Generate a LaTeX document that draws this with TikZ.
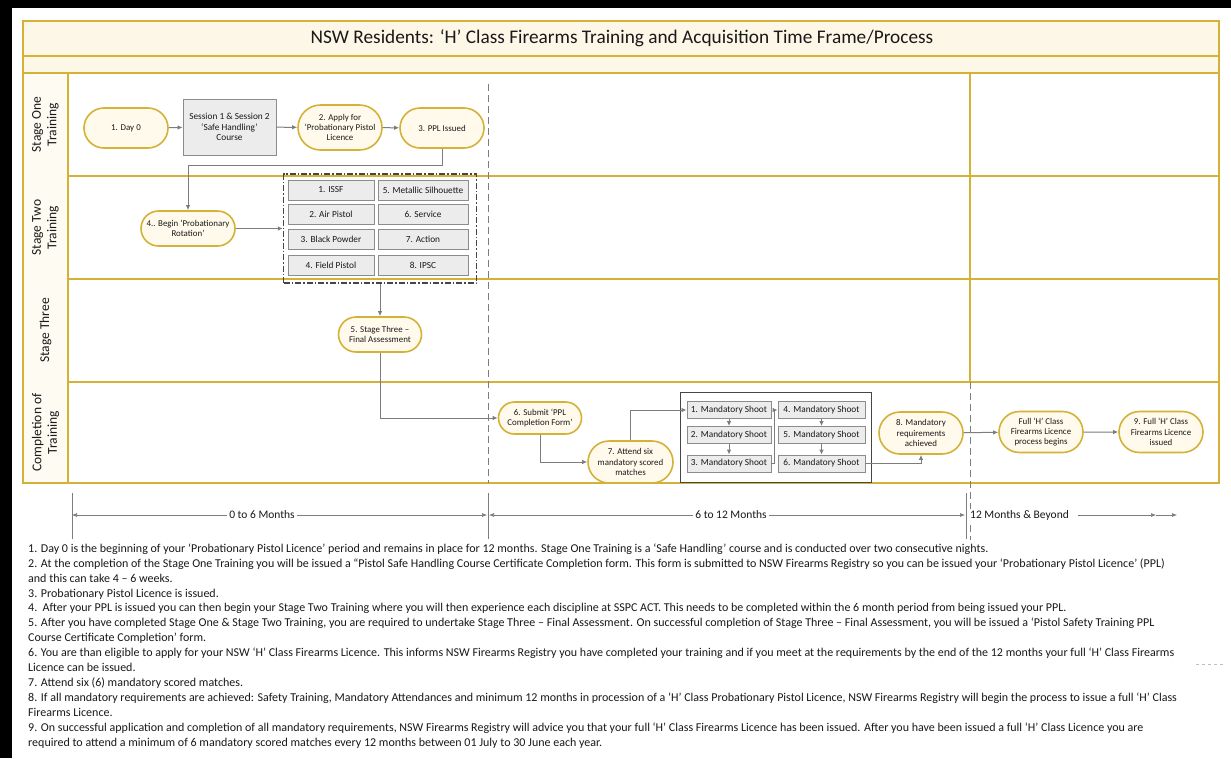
\documentclass[tikz,border=0pt]{standalone}
\usepackage{fontspec}
\setmainfont{Carlito}
\usetikzlibrary{arrows.meta,shapes.misc,calc}
\definecolor{gold}{RGB}{212,177,55}
\definecolor{cream}{RGB}{253,247,232}
\definecolor{labfill}{RGB}{254,251,243}
\definecolor{nodefill}{RGB}{255,250,236}
\definecolor{arrgray}{RGB}{125,125,125}
\definecolor{boxgray}{RGB}{236,236,236}
\definecolor{boxline}{RGB}{140,140,140}
\definecolor{darkline}{RGB}{70,70,70}
\definecolor{txt}{RGB}{25,25,25}
\begin{document}
\begin{tikzpicture}[x=1pt,y=-1pt,
  lane/.style={draw=gold,line width=1.5pt},
  term/.style={rounded rectangle,draw=gold,line width=1.6pt,fill=nodefill,align=center,
    minimum width=86pt,inner sep=1pt,font=\fontsize{8.9}{10.2}\selectfont,text=txt},
  gbox/.style={rectangle,draw=boxline,line width=0.8pt,fill=boxgray,align=center,
    inner sep=1pt,font=\fontsize{9.3}{10.6}\selectfont,text=txt},
  arr/.style={draw=arrgray,line width=1pt,-{Latex[length=5pt,width=4.5pt]}},
  tl/.style={draw=arrgray,line width=0.6pt},
  tla/.style={tl,-{Latex[length=5pt,width=4pt]}},
  lanelab/.style={rotate=90,align=center,font=\fontsize{13.5}{15.5}\selectfont,text=txt},
  note/.style={anchor=base west,inner sep=0pt,font=\fontsize{12}{14}\selectfont,text=txt},
  tlab/.style={fill=white,inner sep=2pt,font=\fontsize{11.5}{13}\selectfont,text=txt},
  frame/.style={draw=black,line cap=butt}]
\useasboundingbox (0,0) rectangle (1231,758);
\fill[white] (0,0) rectangle (1231,758);
% black frame of the screenshot
\draw[frame,line width=12pt] (6,0) -- (6,758);
\draw[frame,line width=8pt] (0,4) -- (1231,4);
% table
\fill[cream] (23,21) rectangle (1219,73);
\fill[labfill] (23,73) rectangle (68,483);
\draw[lane] (23,21) rectangle (1219,483);
\draw[lane] (23,56) -- (1219,56);
\draw[lane] (23,73) -- (1219,73);
\draw[lane] (68,73) -- (68,483);
\draw[lane] (68,176) -- (1219,176);
\draw[lane] (68,279) -- (1219,279);
\draw[lane] (68,382) -- (1219,382);
\draw[lane] (970,73) -- (970,382);
\draw[arrgray,line width=0.7pt,dash pattern=on 7pt off 4pt] (970,382) -- (970,540);
\draw[arrgray,line width=0.7pt,dash pattern=on 7pt off 4pt] (488,84) -- (488,483);
% title
\node[font=\fontsize{19.3}{22}\selectfont,text=txt] (title) at (622,38.5) {NSW Residents: ‘H’ Class Firearms Training and Acquisition Time Frame/Process};
% lane labels
\node[lanelab] (lab1) at (45.5,124.5) {Stage One\\Training};
\node[lanelab] (lab2) at (45.5,227.5) {Stage Two\\Training};
\node[lanelab] (lab3) at (45.5,330.5) {Stage Three};
\node[lanelab] (lab4) at (45.5,432.5) {Completion of\\Training};
% stage one
\node[term,minimum height=40pt] (day0) at (126,128) {1. Day 0};
\node[gbox,minimum width=93pt,minimum height=56pt] (sess) at (229.5,127) {Session 1 \& Session 2\\‘Safe Handling’\\Course};
\node[term,minimum height=45pt] (apply) at (340,127.5) {2. Apply for\\‘Probationary Pistol\\Licence};
\node[term,minimum height=40pt] (ppl) at (442,128) {3. PPL Issued};
% stage two
\node[term,minimum width=96pt,minimum height=35pt] (begin) at (188,228.5) {4.. Begin ‘Probationary\\Rotation’};
\node[draw=darkline,line width=1.3pt,dash pattern=on 6pt off 2pt on 1.5pt off 2pt,minimum width=193pt,minimum height=109pt,inner sep=0pt] (disc) at (380,228.5) {};
\node[gbox,minimum width=86pt,minimum height=20pt] (d1) at (331,190) {1. ISSF};
\node[gbox,minimum width=86pt,minimum height=20pt] (d2) at (331,214.5) {2. Air Pistol};
\node[gbox,minimum width=86pt,minimum height=20pt] (d3) at (331,239.5) {3. Black Powder};
\node[gbox,minimum width=86pt,minimum height=20pt] (d4) at (331,265) {4. Field Pistol};
\node[gbox,minimum width=90pt,minimum height=20pt] (d5) at (423,190) {5. Metallic Silhouette};
\node[gbox,minimum width=90pt,minimum height=20pt] (d6) at (423,214.5) {6. Service};
\node[gbox,minimum width=90pt,minimum height=20pt] (d7) at (423,239.5) {7. Action};
\node[gbox,minimum width=90pt,minimum height=20pt] (d8) at (423,265) {8. IPSC};
% stage three
\node[term,minimum width=85pt,minimum height=35pt] (st3) at (380,334.5) {5. Stage Three –\\Final Assessment};
% completion
\node[term,minimum width=85pt,minimum height=32pt] (submit) at (540,418) {6. Submit ‘PPL\\Completion Form’};
\node[term,minimum width=87pt,minimum height=42pt] (attend) at (630.5,462) {7. Attend six\\mandatory scored\\matches};
\node[draw=darkline,line width=1pt,minimum width=191pt,minimum height=90pt,inner sep=0pt] (mand) at (775.5,437) {};
\node[gbox,minimum width=84pt,minimum height=17pt] (m1) at (729,410) {1. Mandatory Shoot};
\node[gbox,minimum width=84pt,minimum height=17pt] (m2) at (729,435) {2. Mandatory Shoot};
\node[gbox,minimum width=84pt,minimum height=17pt] (m3) at (729,463.5) {3. Mandatory Shoot};
\node[gbox,minimum width=87pt,minimum height=17pt] (m4) at (821.5,410) {4. Mandatory Shoot};
\node[gbox,minimum width=87pt,minimum height=17pt] (m5) at (821.5,435) {5. Mandatory Shoot};
\node[gbox,minimum width=87pt,minimum height=17pt] (m6) at (821.5,463.5) {6. Mandatory Shoot};
\node[term,minimum width=86pt,minimum height=42pt] (req) at (921,433) {8. Mandatory\\requirements\\achieved};
\node[term,minimum width=86pt,minimum height=41pt] (fullb) at (1041,432) {Full ‘H’ Class\\Firearms Licence\\process begins};
\node[term,minimum width=86pt,minimum height=41pt] (full9) at (1161,432) {9. Full ‘H’ Class\\Firearms Licence\\issued};
% connectors
\draw[arr] (day0) -- (sess);
\draw[arr] (sess) -- (apply);
\draw[arr] (apply) -- (ppl);
\draw[arr] (ppl.south) -- ++(0,17) -| (begin.north);
\draw[arr] (begin.east) -- (disc.west);
\draw[arr] (disc.south) -- (st3.north);
\draw[arr] (st3.south) |- (submit.west);
\draw[arr] (submit.south) |- (attend.west);
\draw[arr] (attend.north) |- (m1.west);
\draw[arr] (m1) -- (m2);
\draw[arr] (m2) -- (m3);
\draw[arr] (m4) -- (m5);
\draw[arr] (m5) -- (m6);
\draw[arr] (m3.east) -- ++(3.5,0) |- (m4.west);
\draw[arr] (m6.east) -| (req.south);
\draw[arr] (req) -- (fullb);
\draw[arr] (fullb) -- (full9);
% timeline
\draw[tl] (72,493) -- (72,539);
\draw[tl] (488,493) -- (488,539);
\draw[tl] (966,493) -- (966,539);
\coordinate (t0) at (72,515);
\coordinate (t6a) at (487,515);
\coordinate (t6b) at (489,515);
\coordinate (t12) at (965,515);
\coordinate (tb1) at (1156,515);
\coordinate (tb2) at (1177,515);
\node[tlab] (tl1) at (262,515) {0 to 6 Months};
\node[tlab] (tl2) at (731,515) {6 to 12 Months};
\node[tlab,anchor=west,inner sep=1pt] (tl3) at (969,515) {12 Months \& Beyond};
\draw[tla] (tl1) -- (t0);
\draw[tla] (tl1) -- (t6a);
\draw[tla] (tl2) -- (t6b);
\draw[tla] (tl2) -- (t12);
\draw[tla] ([xshift=8pt]tl3.east) -- (tb1);
\draw[tla] (tb1) -- (tb2);
\draw[gray!50,line width=0.5pt,dashed] (1196,664) -- (1226,664);
% notes
\node[note] (n1) at (28,552) {1. Day 0 is the beginning of your ‘Probationary Pistol Licence’ period and remains in place for 12 months. Stage One Training is a ‘Safe Handling’ course and is conducted over two consecutive nights.};
\node[note] (n2) at (28,567) {2. At the completion of the Stage One Training you will be issued a “Pistol Safe Handling Course Certificate Completion form. This form is submitted to NSW Firearms Registry so you can be issued your ‘Probationary Pistol Licence’ (PPL)};
\node[note] (n3) at (28,582) {and this can take 4 – 6 weeks.};
\node[note] (n4) at (28,597) {3. Probationary Pistol Licence is issued.};
\node[note] (n5) at (28,611.5) {4.\ \ After your PPL is issued you can then begin your Stage Two Training where you will then experience each discipline at SSPC ACT. This needs to be completed within the 6 month period from being issued your PPL.};
\node[note] (n6) at (28,626.5) {5. After you have completed Stage One \& Stage Two Training, you are required to undertake Stage Three – Final Assessment. On successful completion of Stage Three – Final Assessment, you will be issued a ‘Pistol Safety Training PPL};
\node[note] (n7) at (28,641.5) {Course Certificate Completion’ form.};
\node[note] (n8) at (28,656.5) {6. You are than eligible to apply for your NSW ‘H’ Class Firearms Licence. This informs NSW Firearms Registry you have completed your training and if you meet at the requirements by the end of the 12 months your full ‘H’ Class Firearms};
\node[note] (n9) at (28,671.5) {Licence can be issued.};
\node[note] (n10) at (28,686) {7. Attend six (6) mandatory scored matches.};
\node[note] (n11) at (28,701) {8. If all mandatory requirements are achieved: Safety Training, Mandatory Attendances and minimum 12 months in procession of a ‘H’ Class Probationary Pistol Licence, NSW Firearms Registry will begin the process to issue a full ‘H’ Class};
\node[note] (n12) at (28,716) {Firearms Licence.};
\node[note] (n13) at (28,731) {9. On successful application and completion of all mandatory requirements, NSW Firearms Registry will advice you that your full ‘H’ Class Firearms Licence has been issued. After you have been issued a full ‘H’ Class Licence you are};
\node[note] (n14) at (28,746) {required to attend a minimum of 6 mandatory scored matches every 12 months between 01 July to 30 June each year.};
\end{tikzpicture}
\end{document}
